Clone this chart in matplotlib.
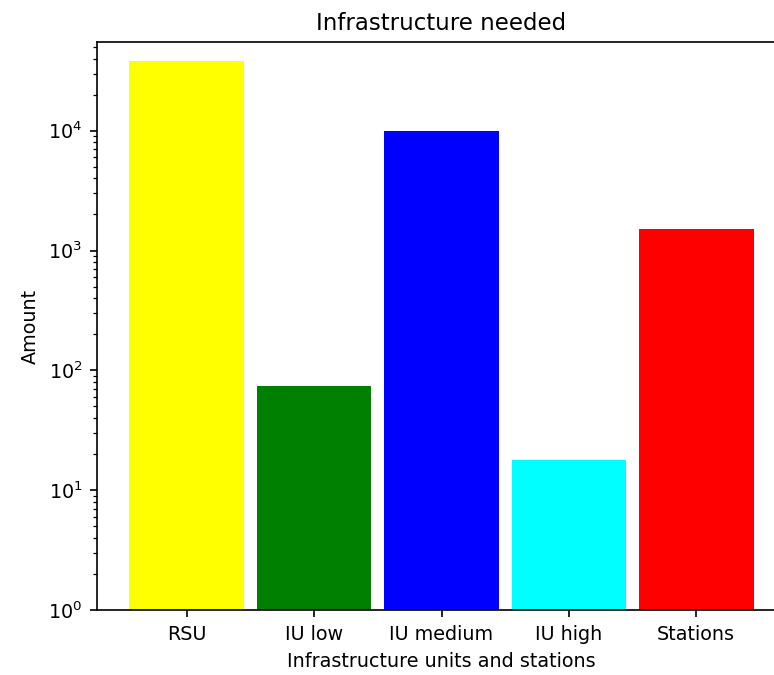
import numpy as np
import matplotlib
matplotlib.use("Agg")
import matplotlib.pyplot as plt

plt.rcParams.update({'font.size': 9.2, 'axes.titlesize': 11})

# amounts of each infrastructure type
categories = ["RSU", "IU low", "IU medium", "IU high", "Stations"]
amounts = [38000, 74, 10000, 18, 1500]
colors = ["yellow", "green", "blue", "cyan", "red"]

fig = plt.figure(figsize=(7.74 / 1.5, 6.75 / 1.5), dpi=150)
ax = fig.add_axes([97 / 774, 65 / 675, 689 / 774, 568 / 675])

x = np.arange(len(categories))
ax.bar(x, amounts, width=0.9, color=colors, log=True)
ax.set_xticks(x)
ax.set_xticklabels(categories)
ax.set_xlim(-0.705, 4.705)
ax.set_ylim(1, 55000)

ax.set_title("Infrastructure needed")
ax.set_xlabel("Infrastructure units and stations")
ax.set_ylabel("Amount")

plt.savefig("out.png", dpi=150)
